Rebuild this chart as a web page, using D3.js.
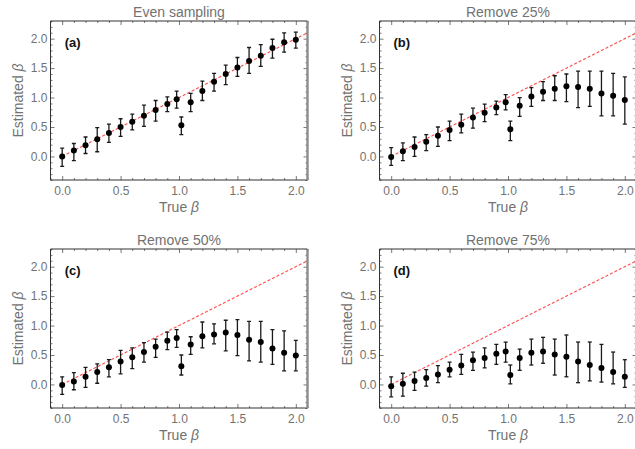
<!DOCTYPE html>
<html><head><meta charset="utf-8">
<script src="https://cdn.jsdelivr.net/npm/d3@7"></script>
<style>body{margin:0;background:#fff}svg{display:block}</style>
</head><body><svg id="c" width="635" height="449"></svg>
<script>
const trueBeta = [0,0.1,0.2,0.3,0.4,0.5,0.6,0.7,0.8,0.9,0.98,1.02,1.1,1.2,1.3,1.4,1.5,1.6,1.7,1.8,1.9,2.0];
const panelTitles = ["Even sampling","Remove 25%","Remove 50%","Remove 75%"];
const panelLetters = ["(a)","(b)","(c)","(d)"];

const estA = [0.00,0.10,0.19,0.29,0.40,0.50,0.59,0.69,0.79,0.89,0.97,0.53,0.92,1.11,1.27,1.40,1.51,1.62,1.71,1.84,1.94,1.98];
const hiA  = [0.14,0.22,0.33,0.49,0.55,0.64,0.72,0.87,0.95,1.01,1.11,0.67,1.07,1.28,1.41,1.55,1.68,1.85,1.90,1.99,2.10,2.11];
const loA  = [-0.17,-0.07,0.05,0.08,0.24,0.34,0.45,0.51,0.60,0.76,0.82,0.37,0.76,0.95,1.11,1.22,1.36,1.41,1.53,1.67,1.77,1.84];

const estB = [-0.01,0.09,0.16,0.25,0.35,0.45,0.54,0.66,0.74,0.83,0.92,0.46,0.86,1.02,1.10,1.15,1.19,1.18,1.15,1.07,1.03,0.96];
const hiB  = [0.15,0.23,0.33,0.37,0.50,0.60,0.72,0.82,0.89,0.94,1.05,0.60,1.00,1.17,1.27,1.37,1.40,1.45,1.45,1.45,1.41,1.35];
const loB  = [-0.15,-0.07,0.00,0.10,0.17,0.27,0.40,0.48,0.59,0.71,0.79,0.27,0.68,0.85,0.95,0.95,0.93,0.83,0.85,0.69,0.69,0.55];

const estC = [-0.01,0.05,0.13,0.21,0.29,0.39,0.46,0.55,0.64,0.74,0.79,0.31,0.68,0.82,0.85,0.88,0.84,0.76,0.72,0.61,0.54,0.49];
const hiC  = [0.13,0.20,0.29,0.35,0.42,0.58,0.62,0.71,0.77,0.89,0.93,0.50,0.81,1.06,1.03,1.09,1.10,1.07,1.07,0.93,0.91,0.75];
const loC  = [-0.17,-0.09,-0.05,0.02,0.13,0.18,0.27,0.38,0.46,0.59,0.63,0.16,0.51,0.62,0.69,0.57,0.49,0.40,0.38,0.34,0.23,0.23];

const estD = [-0.03,0.01,0.06,0.11,0.17,0.25,0.32,0.41,0.45,0.52,0.56,0.16,0.45,0.54,0.56,0.51,0.47,0.39,0.33,0.28,0.21,0.13];
const hiD  = [0.13,0.19,0.21,0.25,0.32,0.38,0.51,0.55,0.62,0.68,0.72,0.33,0.60,0.77,0.80,0.77,0.84,0.72,0.72,0.68,0.55,0.42];
const loD  = [-0.21,-0.20,-0.10,-0.03,0.03,0.13,0.17,0.24,0.28,0.34,0.38,0.01,0.24,0.33,0.36,0.16,0.13,0.03,0.06,0.04,0.01,-0.05];

const xTicks = [0,0.5,1,1.5,2];
const yTicks = [0,0.5,1,1.5,2];
const xMinor = d3.range(-0.1,2.101,0.1).map(v=>+v.toFixed(2)).filter(v=>!xTicks.includes(v));
const yMinor = d3.range(-0.4,2.301,0.1).map(v=>+v.toFixed(2)).filter(v=>!yTicks.includes(v));

const panels = [
  {title:panelTitles[0], letter:panelLetters[0], est:estA, lo:loA, hi:hiA, left:50.5, top:21},
  {title:panelTitles[1], letter:panelLetters[1], est:estB, lo:loB, hi:hiB, left:379.5, top:21},
  {title:panelTitles[2], letter:panelLetters[2], est:estC, lo:loC, hi:hiC, left:50.5, top:249},
  {title:panelTitles[3], letter:panelLetters[3], est:estD, lo:loD, hi:hiD, left:379.5, top:249}
];

const W = 257, H = 159;
const FONT = "'Liberation Sans', Arial, sans-serif";
const GRAY = "#727272";
const svg = d3.select("#c");

panels.forEach((p,i)=>{
  const x = d3.scaleLinear().domain([-0.1,2.1]).range([0,W]);
  const y = d3.scaleLinear().domain([-0.4,2.3]).range([H,0]);
  const g = svg.append("g").attr("transform",`translate(${p.left},${p.top})`);
  const clipId = "clip"+i;
  g.append("clipPath").attr("id",clipId).append("rect").attr("width",W).attr("height",H);

  // axes (ticks inward)
  const fmt = d3.format(".1f");
  const styleAxis = sel => {
    sel.select(".domain").remove();
    sel.selectAll("line").attr("stroke","#555").attr("stroke-width",0.8);
    sel.selectAll("text").attr("fill",GRAY).style("font-family",FONT).style("font-size","12px");
  };
  g.append("g").attr("transform",`translate(0,${H})`)
    .call(d3.axisBottom(x).tickValues(xTicks).tickSize(-4).tickPadding(6).tickFormat(fmt)).call(styleAxis);
  g.append("g").attr("transform",`translate(0,${H})`)
    .call(d3.axisBottom(x).tickValues(xMinor).tickSize(-2).tickFormat("")).call(styleAxis);
  g.append("g")
    .call(d3.axisTop(x).tickValues(xTicks).tickSize(-4).tickFormat("")).call(styleAxis);
  g.append("g")
    .call(d3.axisTop(x).tickValues(xMinor).tickSize(-2).tickFormat("")).call(styleAxis);
  g.append("g")
    .call(d3.axisLeft(y).tickValues(yTicks).tickSize(-4).tickPadding(3).tickFormat(fmt)).call(styleAxis);
  g.append("g")
    .call(d3.axisLeft(y).tickValues(yMinor).tickSize(-2).tickFormat("")).call(styleAxis);
  g.append("g").attr("transform",`translate(${W},0)`)
    .call(d3.axisRight(y).tickValues(yTicks).tickSize(-4).tickFormat("")).call(styleAxis);
  g.append("g").attr("transform",`translate(${W},0)`)
    .call(d3.axisRight(y).tickValues(yMinor).tickSize(-2).tickFormat("")).call(styleAxis);

  // frame
  g.append("path").attr("d",`M${W},0H0V${H}H${W}`).attr("fill","none").attr("stroke","#333").attr("stroke-width",1);
  g.append("line").attr("x1",W).attr("x2",W).attr("y1",0).attr("y2",H).attr("stroke","#8c8c8c").attr("stroke-width",2.4);

  const inner = g.append("g").attr("clip-path",`url(#${clipId})`);
  // reference line y = x
  inner.append("line")
    .attr("x1",x(0)).attr("y1",y(0)).attr("x2",x(2.1)).attr("y2",y(2.1))
    .attr("stroke","#ff2020").attr("stroke-opacity",0.8).attr("stroke-width",1.1).attr("stroke-dasharray","3,2");

  const data = trueBeta.map((t,k)=>({t, e:p.est[k], lo:p.lo[k], hi:p.hi[k]}));
  const eb = inner.append("g").attr("stroke","#1a1a1a").attr("stroke-width",1.3);
  data.forEach(d=>{
    eb.append("line").attr("x1",x(d.t)).attr("x2",x(d.t)).attr("y1",y(d.lo)).attr("y2",y(d.hi));
    eb.append("line").attr("x1",x(d.t)-2).attr("x2",x(d.t)+2).attr("y1",y(d.lo)).attr("y2",y(d.lo));
    eb.append("line").attr("x1",x(d.t)-2).attr("x2",x(d.t)+2).attr("y1",y(d.hi)).attr("y2",y(d.hi));
  });
  inner.append("g").selectAll("circle").data(data).join("circle")
    .attr("cx",d=>x(d.t)).attr("cy",d=>y(d.e)).attr("r",3).attr("fill","#000");

  // letter
  g.append("text").attr("x",x(0.09)).attr("y",y(1.93)).attr("dy","0.35em").attr("text-anchor","middle")
    .style("font-family",FONT).style("font-size","13px").style("font-weight","bold").attr("fill","#111").text(p.letter);

  // title
  g.append("text").attr("x",W/2).attr("y",-4).attr("text-anchor","middle")
    .style("font-family",FONT).style("font-size","14px").attr("fill",GRAY).text(p.title);

  // x label
  const xl = g.append("text").attr("x",W/2).attr("y",H+32).attr("text-anchor","middle")
    .style("font-family",FONT).style("font-size","14px").attr("fill",GRAY);
  xl.append("tspan").text("True ");
  xl.append("tspan").style("font-style","italic").text("β");

  // y label
  const yl = g.append("text").attr("transform",`translate(-28,${H/2}) rotate(-90)`).attr("text-anchor","middle")
    .style("font-family",FONT).style("font-size","14px").attr("fill",GRAY);
  yl.append("tspan").text("Estimated ");
  yl.append("tspan").style("font-style","italic").text("β");
});
</script>
</body></html>
